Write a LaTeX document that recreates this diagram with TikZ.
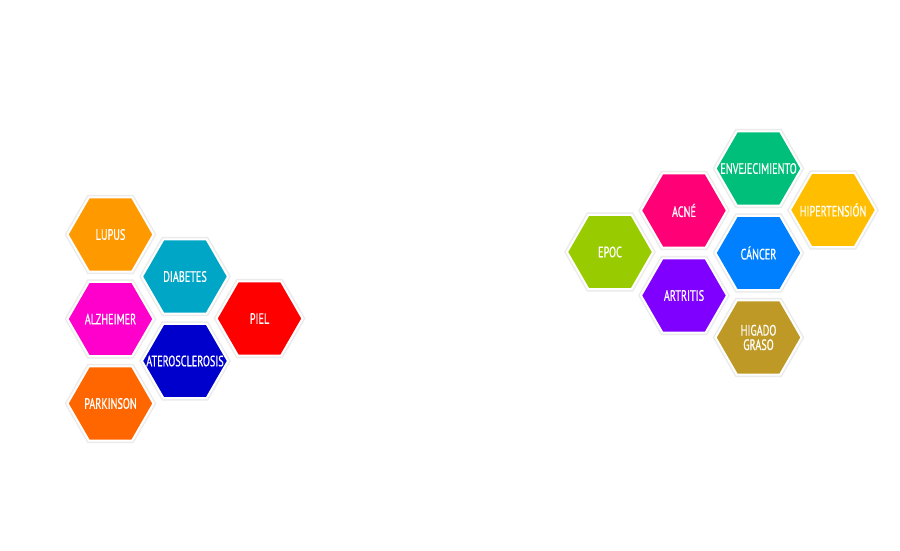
\documentclass[tikz,border=0pt]{standalone}
\usepackage{fontspec}
\newfontfamily\hexfont[FakeStretch=0.68,FakeBold=0.6]{PT Sans}
\usetikzlibrary{shapes.geometric}
\definecolor{cLupus}{HTML}{FF9900}
\definecolor{cDiab}{HTML}{00A6C6}
\definecolor{cAlz}{HTML}{FF00CC}
\definecolor{cPiel}{HTML}{FF0000}
\definecolor{cAter}{HTML}{0000CC}
\definecolor{cPark}{HTML}{FF6600}
\definecolor{cEpoc}{HTML}{99CC00}
\definecolor{cAcne}{HTML}{FF0077}
\definecolor{cArtr}{HTML}{8000FF}
\definecolor{cEnv}{HTML}{00BF7A}
\definecolor{cCanc}{HTML}{0080FF}
\definecolor{cHiper}{HTML}{FFBF00}
\definecolor{cHig}{HTML}{BF9926}
\tikzset{
  hexa/.style={regular polygon, regular polygon sides=6, minimum size=86pt,
    inner sep=0pt, outer sep=0pt, fill=#1, draw=white, line width=2pt,
    preaction={draw=black!8, line width=5pt},
    text=white, font=\hexfont\fontsize{15}{14.5}\selectfont, align=center}
}
\newcommand{\hl}[1]{\makebox[0pt][c]{#1}}
\begin{document}
\begin{tikzpicture}[x=1pt,y=-1pt]
\useasboundingbox[fill=white] (0,0) rectangle (900,550);
% left cluster
\node[hexa=cLupus] (lupus) at (110.5,234.5) {\hl{LUPUS}};
\node[hexa=cDiab] (diab) at (185,276.5) {\hl{DIABETES}};
\node[hexa=cAlz] (alz) at (110.5,319) {\hl{ALZHEIMER}};
\node[hexa=cPiel] (piel) at (259.5,318.5) {\hl{PIEL}};
\node[hexa=cAter] (ater) at (185,361) {\hl{ATEROSCLEROSIS}};
\node[hexa=cPark] (park) at (110.5,403.5) {\hl{PARKINSON}};
% right cluster
\node[hexa=cEpoc] (epoc) at (610,252) {\hl{EPOC}};
\node[hexa=cAcne] (acne) at (684,210.5) {\hl{ACNÉ}};
\node[hexa=cArtr] (artr) at (684,295.5) {\hl{ARTRITIS}};
\node[hexa=cEnv] (env) at (758.5,168.5) {\hl{ENVEJECIMIENTO}};
\node[hexa=cCanc] (canc) at (758.5,253) {\hl{CÁNCER}};
\node[hexa=cHig] (hig) at (758.5,337.5) {\hl{HIGADO}\\\hl{GRASO}};
\node[hexa=cHiper] (hiper) at (833,210) {\hl{HIPERTENSIÓN}};
\end{tikzpicture}
\end{document}
